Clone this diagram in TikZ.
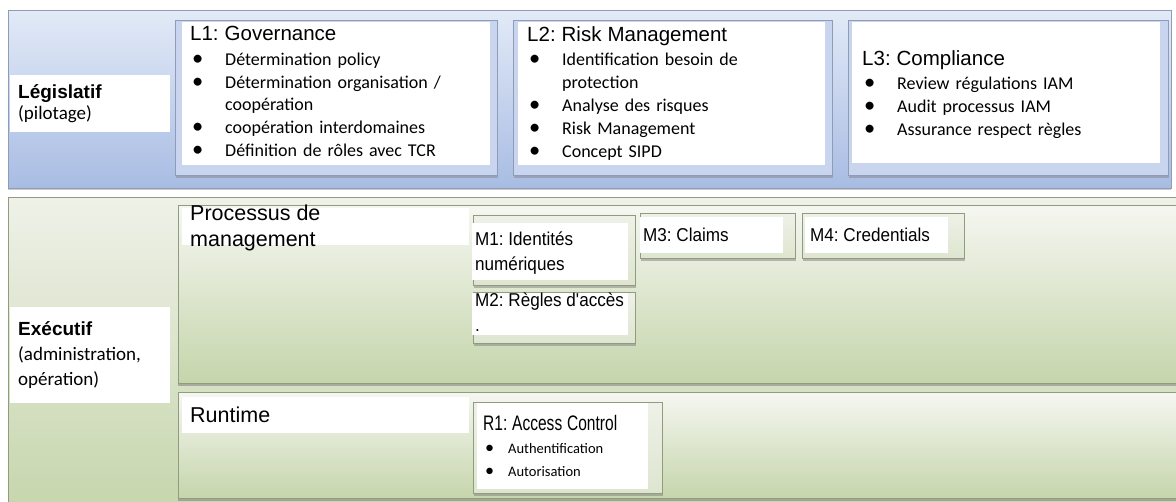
\documentclass[tikz,border=0pt]{standalone}
\usepackage{fontspec}
\setmainfont{Carlito}
\newfontfamily\arialf{Liberation Sans}
\newfontfamily\arialn[FakeStretch=0.92]{Liberation Sans}
\newfontfamily\arialc[FakeStretch=0.74]{Liberation Sans}
\usetikzlibrary{shadows}

\definecolor{legtop}{HTML}{E2EAF7}
\definecolor{legbot}{HTML}{A8BCE3}
\definecolor{legline}{HTML}{8E9CB6}
\definecolor{lfill}{HTML}{C9D5EE}
\definecolor{exetop}{HTML}{EFF1E8}
\definecolor{exebot}{HTML}{C5D5AB}
\definecolor{exeline}{HTML}{8F9C7E}
\definecolor{mfill}{HTML}{DDE5CF}

\newlength\bulind
\setlength\bulind{35pt}
\newcommand{\itm}[1]{\par\hangindent=\bulind\hangafter=1\noindent
	\makebox[\bulind][l]{\hspace{2pt}\scalebox{1.25}{\textbullet}}{\let\\\newline#1}}
\newcommand{\ltitle}[1]{{\arialf\fontsize{20.5}{24}\selectfont #1\par}\vspace{2pt}}

\begin{document}
\frenchspacing
\begin{tikzpicture}[x=1pt,y=-1pt,
	box/.style={inner sep=0pt,anchor=north west},
	legband/.style={box,draw=legline,line width=0.8pt,top color=legtop,bottom color=legbot,
		drop shadow={shadow xshift=0pt,shadow yshift=-2pt,opacity=0.4}},
	exeband/.style={box,draw=exeline,line width=0.8pt,top color=exetop,bottom color=exebot},
	subband/.style={box,draw=exeline,line width=0.8pt,top color=exetop!60!white,bottom color=exebot,
		drop shadow={shadow xshift=0pt,shadow yshift=-2.5pt,opacity=0.55}},
	lframe/.style={box,draw=legline,line width=0.8pt,fill=lfill,
		drop shadow={shadow xshift=1pt,shadow yshift=-2.5pt,opacity=0.45}},
	mframe/.style={box,draw=exeline,line width=0.8pt,top color=exetop,bottom color=mfill,
		drop shadow={shadow xshift=1pt,shadow yshift=-2.5pt,opacity=0.5}},
	panel/.style={box,fill=white},
	sidelabel/.style={box,fill=white,text width=144pt,inner xsep=8pt,align=left,
		font=\fontsize{19}{21}\selectfont},
	listtxt/.style={box,text width=300pt,align=left,font=\fontsize{18}{22.8}\selectfont},
	mtxt/.style={box,align=left,font=\arialn\fontsize{18.6}{25}\selectfont},
	ptxt/.style={box,align=left,font=\arialf\fontsize{21.5}{26}\selectfont}]
\useasboundingbox (0,0) rectangle (1176,501);
\clip (0,0) rectangle (1176,501);

\node[exeband,minimum width=1200pt,minimum height=320pt] (exe) at (8,197) {};
\node[legband,minimum width=1163pt,minimum height=178pt] (leg) at (8,10) {};

\node[sidelabel,minimum height=57pt] (legl) at (10,75) {{\arialf\bfseries Législatif}\\(pilotage)};
\node[sidelabel,minimum height=96pt,font=\fontsize{19}{25}\selectfont] (exel) at (10,307)
	{{\arialf\bfseries Exécutif}\\(administration,\\opération)};

\node[lframe,minimum width=322pt,minimum height=155pt] (L1f) at (175,20) {};
\node[panel,minimum width=308pt,minimum height=143pt] (L1) at (182,22) {};
\node[listtxt] (L1t) at (190,26) {\ltitle{L1: Governance}%
	\itm{Détermination policy}\itm{Détermination organisation /\\coopération}%
	\itm{coopération interdomaines}\itm{Définition de rôles avec TCR}};

\node[lframe,minimum width=319pt,minimum height=155pt] (L2f) at (513,20) {};
\node[panel,minimum width=307pt,minimum height=143pt] (L2) at (518,22) {};
\node[listtxt] (L2t) at (527,26) {\ltitle{L2: Risk Management}%
	\itm{Identification besoin de\\protection}\itm{Analyse des risques}%
	\itm{Risk Management}\itm{Concept SIPD}};

\node[lframe,minimum width=320pt,minimum height=155pt] (L3f) at (848,20) {};
\node[panel,minimum width=308pt,minimum height=141pt] (L3) at (852,22) {};
\node[listtxt] (L3t) at (862,50) {\ltitle{L3: Compliance}%
	\itm{Review régulations IAM}\itm{Audit processus IAM}\itm{Assurance respect règles}};

\node[subband,minimum width=1010pt,minimum height=178pt] (proc) at (178,205) {};
\node[subband,minimum width=1010pt,minimum height=106pt] (run) at (178,392) {};
\node[panel,minimum width=287pt,minimum height=37pt] (procl) at (182,208) {};
\node[ptxt] (proct) at (190,205) {Processus de\\management};
\node[panel,minimum width=287pt,minimum height=36pt] (runl) at (182,397) {};
\node[ptxt] (runt) at (190,407) {Runtime};

\node[mframe,minimum width=162pt,minimum height=70pt] (M1f) at (473,215) {};
\node[panel,minimum width=156pt,minimum height=57pt] (M1) at (472,223) {};
\node[mtxt] (M1t) at (475,232) {M1: Identités\\numériques};

\node[mframe,minimum width=162pt,minimum height=51pt] (M2f) at (473,292) {};
\node[panel,minimum width=156pt,minimum height=42pt] (M2) at (472,293) {};
\node[mtxt] (M2t) at (475,293) {M2: Règles d'accès\\.};

\node[mframe,minimum width=155pt,minimum height=45pt] (M3f) at (640,213) {};
\node[panel,minimum width=143pt,minimum height=36pt] (M3) at (640,217) {};
\node[mtxt] (M3t) at (643,228) {M3: Claims};

\node[mframe,minimum width=162pt,minimum height=45pt] (M4f) at (802,213) {};
\node[panel,minimum width=143pt,minimum height=36pt] (M4) at (805,217) {};
\node[mtxt] (M4t) at (810,228) {M4: Credentials};

\node[mframe,minimum width=189pt,minimum height=91pt] (R1f) at (473,402) {};
\node[panel,minimum width=171pt,minimum height=86pt] (R1) at (477,403) {};
\node[listtxt,text width=165pt,font=\fontsize{14.5}{23}\selectfont] (R1t) at (483,415)
	{\setlength\bulind{25pt}{\arialc\fontsize{21}{24}\selectfont R1: Access Control\par}%
	\itm{Authentification}\itm{Autorisation}};
\end{tikzpicture}
\end{document}
